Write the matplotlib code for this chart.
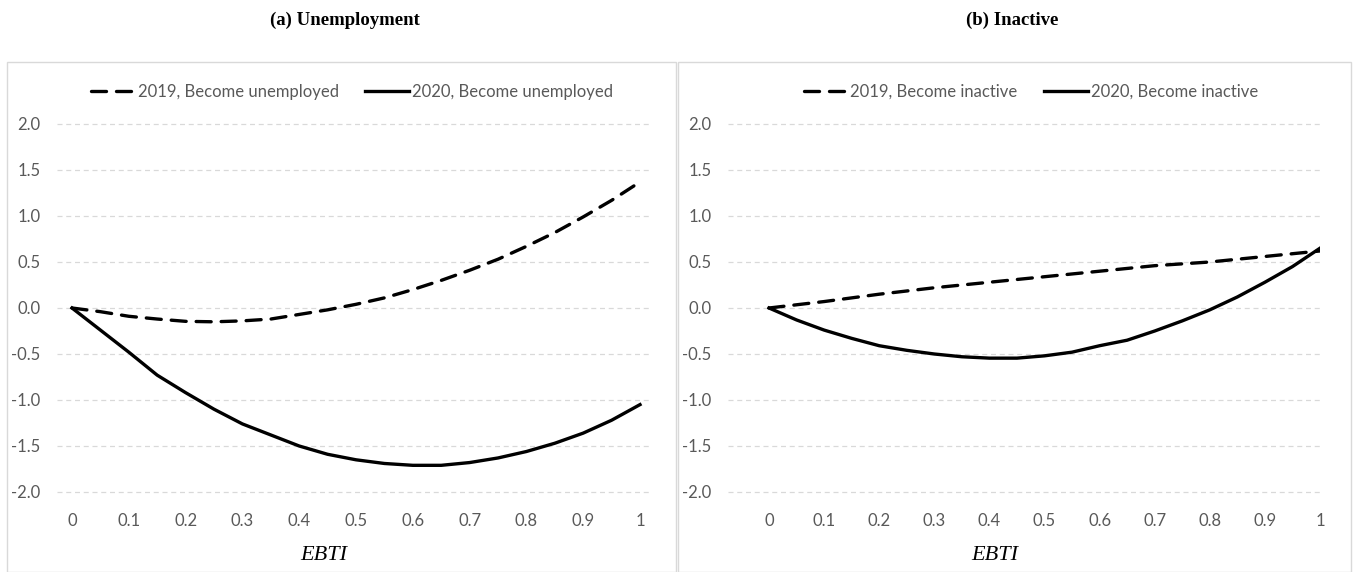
import matplotlib.pyplot as plt
from matplotlib.patches import Rectangle

W, H = 1354, 572

ebti = [0, 0.05, 0.1, 0.15, 0.2, 0.25, 0.3, 0.35, 0.4, 0.45, 0.5,
        0.55, 0.6, 0.65, 0.7, 0.75, 0.8, 0.85, 0.9, 0.95, 1.0]

unemp_2019 = [0, -0.04, -0.09, -0.12, -0.145, -0.15, -0.14, -0.12, -0.07, -0.02, 0.04,
              0.11, 0.2, 0.3, 0.41, 0.53, 0.67, 0.82, 0.99, 1.17, 1.37]
unemp_2020 = [0, -0.24, -0.48, -0.73, -0.92, -1.1, -1.26, -1.38, -1.5, -1.59, -1.65,
              -1.69, -1.71, -1.71, -1.68, -1.63, -1.56, -1.47, -1.36, -1.22, -1.05]

inact_2019 = [0, 0.035, 0.07, 0.11, 0.15, 0.185, 0.22, 0.25, 0.28, 0.31, 0.34,
              0.37, 0.4, 0.43, 0.46, 0.48, 0.5, 0.53, 0.56, 0.59, 0.62]
inact_2020 = [0, -0.13, -0.24, -0.33, -0.41, -0.46, -0.5, -0.53, -0.545, -0.545, -0.52,
              -0.48, -0.41, -0.35, -0.25, -0.14, -0.02, 0.12, 0.28, 0.45, 0.65]

xticks = [0, 0.1, 0.2, 0.3, 0.4, 0.5, 0.6, 0.7, 0.8, 0.9, 1]
xticklabels = ["0", "0.1", "0.2", "0.3", "0.4", "0.5", "0.6", "0.7", "0.8", "0.9", "1"]
yticks = [-2.0, -1.5, -1.0, -0.5, 0.0, 0.5, 1.0, 1.5, 2.0]

panels = [
    dict(title="(a) Unemployment", s19=unemp_2019, s20=unemp_2020,
         lab19="2019, Become unemployed", lab20="2020, Become unemployed",
         box=(7, 676), ax=(57, 651), x0=72, x1=640, title_x=345, label_x=324, leg_x=352),
    dict(title="(b) Inactive", s19=inact_2019, s20=inact_2020,
         lab19="2019, Become inactive", lab20="2020, Become inactive",
         box=(678, 1351), ax=(728, 1320), x0=770, x1=1334, title_x=1012, label_x=995, leg_x=1031),
]

fig = plt.figure(figsize=(W / 100, H / 100), dpi=100)
gray = "#595959"

# pixel positions of y=0 and scale
y_zero = 308
px_per_unit = 92
ax_top, ax_bot = 110, 505

for p in panels:
    bx0, bx1 = p["box"]
    fig.patches.append(Rectangle((bx0 / W, 0), (bx1 - bx0) / W, (H - 62) / H,
                                 transform=fig.transFigure, fill=False,
                                 edgecolor="#d9d9d9", linewidth=1))
    fig.text(p["title_x"] / W, 1 - 20 / H, p["title"], ha="center", va="center",
             family="Liberation Serif", fontweight="bold", fontsize=13.5)

    a0, a1 = p["ax"]
    ax = fig.add_axes([a0 / W, 1 - ax_bot / H, (a1 - a0) / W, (ax_bot - ax_top) / H])
    scale = p["x1"] - p["x0"]
    ax.set_xlim((a0 - p["x0"]) / scale, 1 + (a1 - p["x1"]) / scale)
    ax.set_ylim(-(ax_bot - y_zero) / px_per_unit, (y_zero - ax_top) / px_per_unit)

    ax.plot(ebti, p["s19"], color="black", linewidth=2.4, dashes=(4.5, 3),
            dash_capstyle="round", label=p["lab19"])
    ax.plot(ebti, p["s20"], color="black", linewidth=2.4, label=p["lab20"])

    ax.set_yticks(yticks)
    ax.set_yticklabels([f"{v:.1f}" for v in yticks])
    ax.set_xticks(xticks)
    ax.set_xticklabels(xticklabels)
    ax.grid(axis="y", color="#d9d9d9", linestyle=(0, (4, 3)), linewidth=0.9)
    ax.set_axisbelow(True)
    for s in ax.spines.values():
        s.set_visible(False)
    ax.tick_params(length=0, colors=gray, labelsize=12)
    ax.tick_params(axis="y", pad=12)
    ax.tick_params(axis="x", pad=6)
    for t in ax.get_xticklabels() + ax.get_yticklabels():
        t.set_family("Lato")
    ax.patch.set_alpha(0)

    # legend sits above the 2.0 gridline, centred in pixel space
    leg = fig.legend(*ax.get_legend_handles_labels(), loc="center",
                     bbox_to_anchor=(p["leg_x"] / W, 1 - 92 / H),
                     ncol=2, frameon=False, handlelength=2.6, handletextpad=0.2,
                     columnspacing=1.6, prop={"family": "Lato", "size": 12})
    for t in leg.get_texts():
        t.set_color(gray)

    fig.text(p["label_x"] / W, 1 - 555 / H, "EBTI", ha="center", va="center",
             family="Liberation Serif", style="italic", fontsize=16)

fig.savefig("out.png", dpi=100)
